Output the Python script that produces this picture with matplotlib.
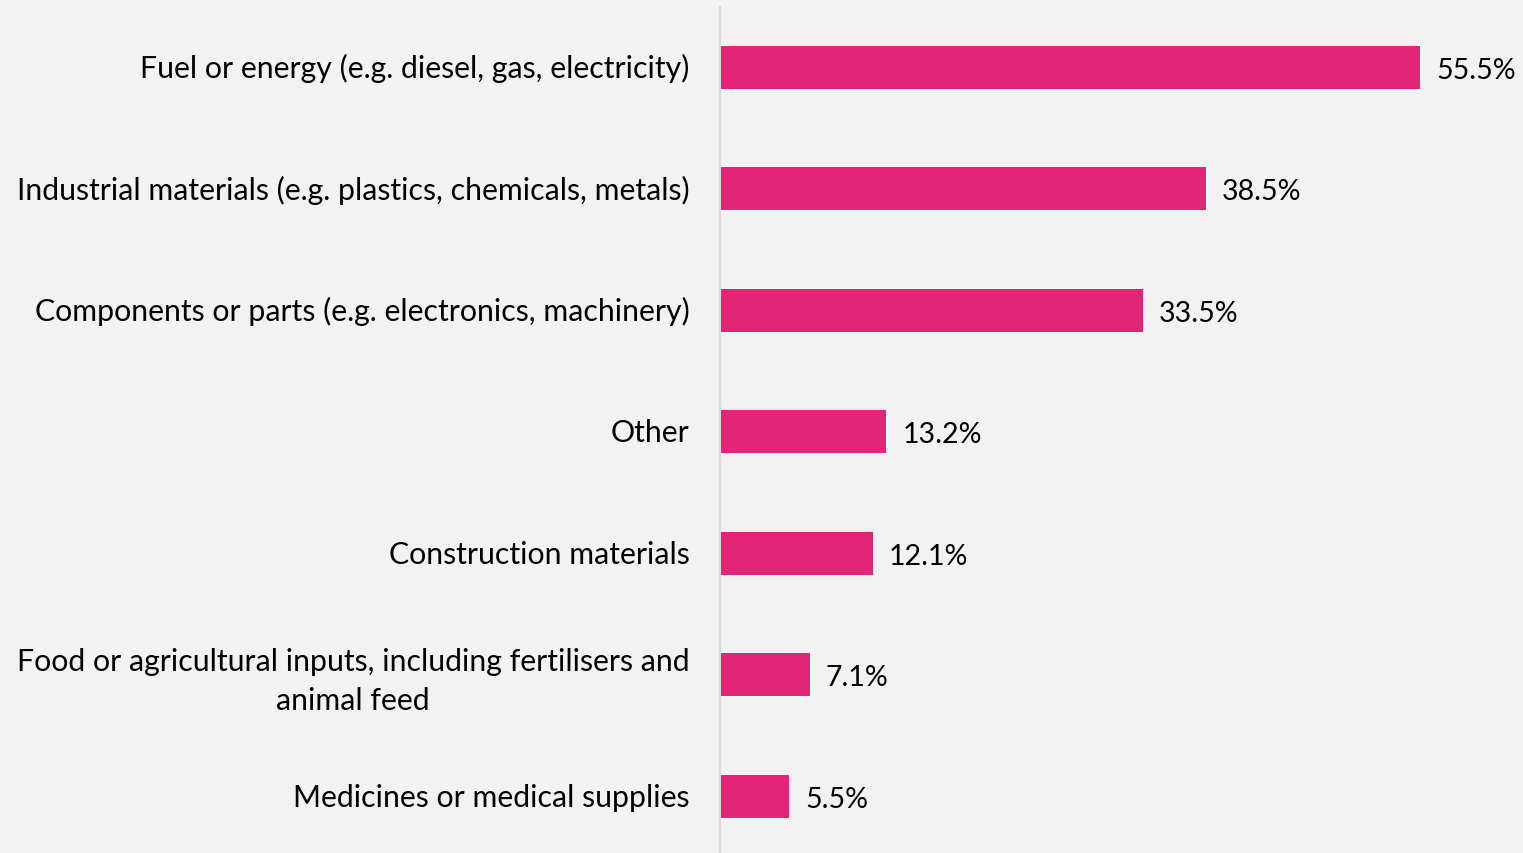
import matplotlib.pyplot as plt
import matplotlib.transforms as mtransforms

categories = [
    'Fuel or energy (e.g. diesel, gas, electricity)',
    'Industrial materials (e.g. plastics, chemicals, metals)',
    'Components or parts (e.g. electronics, machinery)',
    'Other',
    'Construction materials',
    'Food or agricultural inputs, including fertilisers and\nanimal feed',
    'Medicines or medical supplies',
]
values = [55.5, 38.5, 33.5, 13.2, 12.1, 7.1, 5.5]

bg = '#f2f2f2'
bar_color = '#e32577'

plt.rcParams['font.family'] = ['Lato', 'DejaVu Sans']

fig = plt.figure(figsize=(15.23, 8.54), dpi=100, facecolor=bg)
ax = fig.add_axes([720 / 1523, -4 / 854, 1 - 720 / 1523, 850.5 / 854], facecolor=bg)

pos = list(range(len(categories)))
ax.barh(pos, values, height=0.354, color=bar_color)
ax.set_ylim(len(categories) - 0.5, -0.5)
ax.set_xlim(0, 55.5 * 803 / 700)

for y, v in zip(pos, values):
    ax.text(v + 1.3, y + 0.02, f'{v}%', va='center', ha='left', fontsize=20.5, color='black')

ax.set_yticks(pos)
ax.set_yticklabels(categories, fontsize=21.8, multialignment='center', linespacing=1.45)
ax.tick_params(axis='y', length=0, pad=22)
# nudge category labels up a couple of pixels
nudge = mtransforms.ScaledTranslation(0, 2 / 100, fig.dpi_scale_trans)
for lbl in ax.get_yticklabels():
    lbl.set_transform(lbl.get_transform() + nudge)
ax.set_xticks([])

for s in ['top', 'right', 'bottom']:
    ax.spines[s].set_visible(False)
ax.spines['left'].set_color('#d9d9d9')
ax.spines['left'].set_linewidth(1.5)

fig.savefig('out.png', dpi=100, facecolor=bg)
